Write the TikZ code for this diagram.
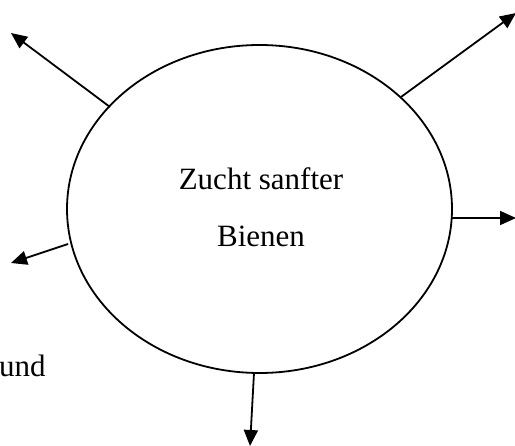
\documentclass[tikz,border=0pt]{standalone}
\usepackage{fontspec}
\setmainfont{Liberation Serif}
\usetikzlibrary{shapes.geometric,arrows.meta}
\begin{document}
\begin{tikzpicture}[x=1pt,y=-1pt,
  conn/.style={line width=1.8pt,-{Triangle[length=16pt,width=14pt]}},
  lbl/.style={inner sep=0pt,font=\fontsize{31}{37}\selectfont}]
\useasboundingbox (0,0) rectangle (515,446);
\node[ellipse,draw,line width=1.8pt,inner sep=0pt,minimum width=385pt,minimum height=328pt] (e) at (259.5,209) {};
\node[lbl,anchor=base] (t1) at (261,190) {Zucht sanfter};
\node[lbl,anchor=base] (t2) at (261,247) {Bienen};
\node[lbl,anchor=base west] (und) at (-1,377) {und};
\coordinate (s1) at (110,107); \coordinate (e1) at (11,33);
\coordinate (s2) at (401,97);  \coordinate (e2) at (516,13);
\coordinate (s3) at (452,218); \coordinate (e3) at (516,218);
\coordinate (s4) at (68,244);  \coordinate (e4) at (11,263);
\coordinate (s5) at (254,373); \coordinate (e5) at (250,446);
\draw[conn] (s1) -- (e1);
\draw[conn] (s2) -- (e2);
\draw[conn] (s3) -- (e3);
\draw[conn] (s4) -- (e4);
\draw[conn] (s5) -- (e5);
\end{tikzpicture}
\end{document}
